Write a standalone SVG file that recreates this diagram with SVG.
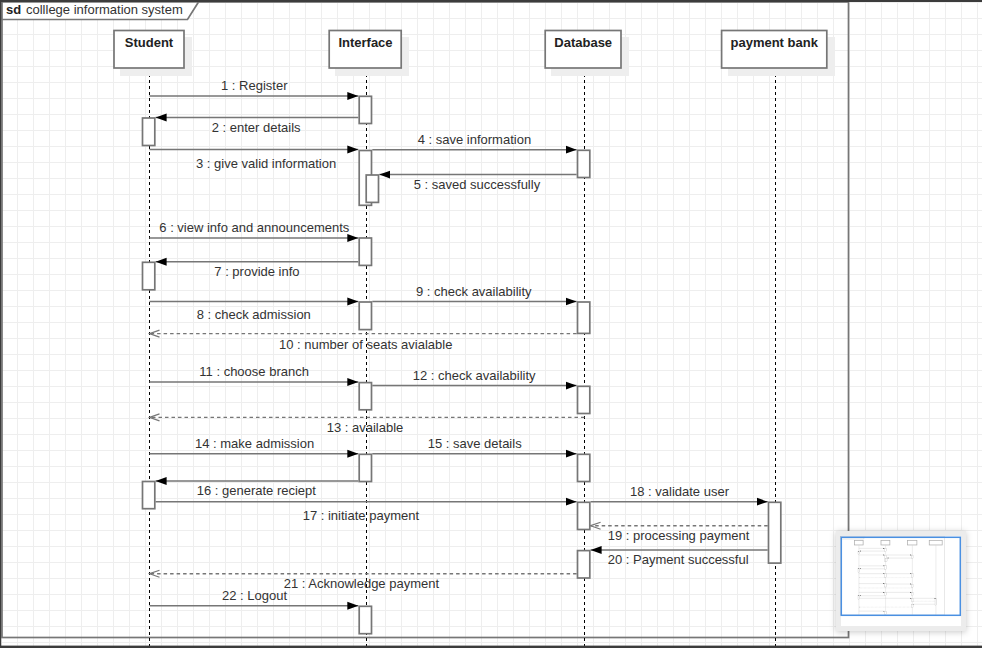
<svg xmlns="http://www.w3.org/2000/svg" xmlns:xlink="http://www.w3.org/1999/xlink" width="982" height="648" viewBox="0 0 982 648">
  <defs>
    <style>
      text { font-family: "Liberation Sans", Arial, Helvetica, sans-serif; font-size: 13px; fill: #333; }
      .name { font-weight: bold; text-anchor: middle; fill: #222; }
      .box { fill: #fff; stroke: #767676; stroke-width: 1.7; }
      .shadow { fill: #eeeeee; }
      .life { stroke: #000; stroke-width: 1; stroke-dasharray: 3 3; fill: none; }
      .act { fill: #fff; stroke: #767676; stroke-width: 1.7; }
      .msg { stroke: #767676; stroke-width: 1.5; fill: none; marker-end: url(#solid); }
      .ret { stroke: #767676; stroke-width: 1.4; fill: none; stroke-dasharray: 3.5 3; marker-end: url(#open); }
      .edge { stroke: #767676; stroke-width: 1.7; }
    </style>
    <pattern id="grid" patternUnits="userSpaceOnUse" x="1" y="2" width="16" height="16">
      <path d="M0.5 0 V16 M0 0.5 H16" stroke="#eeeeee" stroke-width="1" fill="none"/>
    </pattern>
    <marker id="solid" markerUnits="userSpaceOnUse" markerWidth="12" markerHeight="10" refX="11" refY="4.5" orient="auto">
      <path d="M0 0.5 L11 4.5 L0 8.5 Z" fill="#000"/>
    </marker>
    <marker id="open" markerUnits="userSpaceOnUse" markerWidth="12" markerHeight="10" refX="10.5" refY="4.5" orient="auto">
      <path d="M0.5 1 L10.5 4.5 L0.5 8" fill="none" stroke="#767676" stroke-width="1.2"/>
    </marker>
    <filter id="panelShadow" x="-20%" y="-20%" width="140%" height="140%">
      <feDropShadow dx="0" dy="1" stdDeviation="3" flood-color="#000" flood-opacity="0.22"/>
    </filter>
  </defs>

  <!-- canvas background and grid -->
  <rect x="0" y="0" width="982" height="648" fill="#fff"/>
  <rect x="0" y="0" width="982" height="648" fill="url(#grid)"/>

  <!-- sequence frame -->
  <g id="frame">
    <g id="frame-edges">
      <rect class="edge" x="2" y="2" width="846.5" height="635.5" fill="none"/>
      <path class="edge" d="M2 2 H198.5 L187.5 19.5 H2 Z" fill="#fff"/>
    </g>
    <text x="6" y="13.5" style="font-weight:bold;fill:#222">sd</text>
    <text x="26" y="13.5">colllege information system</text>
  </g>

  <!-- lifelines -->
  <g id="student">
    <line class="life" x1="149.5" y1="68" x2="149.5" y2="646"/>
    <rect class="shadow" x="120" y="37" width="72" height="39"/>
    <rect class="box" x="114" y="30.5" width="70" height="37.5"/>
    <text class="name" x="149" y="47">Student</text>
  </g>
  <g id="interface">
    <line class="life" x1="366.5" y1="68" x2="366.5" y2="646"/>
    <rect class="shadow" x="335" y="37" width="74" height="39"/>
    <rect class="box" x="329.2" y="30.5" width="72" height="37.5"/>
    <text class="name" x="365.5" y="47">Interface</text>
  </g>
  <g id="database">
    <line class="life" x1="584.5" y1="68" x2="584.5" y2="646"/>
    <rect class="shadow" x="551" y="37" width="78" height="39"/>
    <rect class="box" x="545.2" y="30.5" width="75.8" height="37.5"/>
    <text class="name" x="583.2" y="47">Database</text>
  </g>
  <g id="payment-bank">
    <line class="life" x1="775.5" y1="68" x2="775.5" y2="646"/>
    <rect class="shadow" x="728" y="37" width="107" height="39"/>
    <rect class="box" x="721.6" y="30.5" width="105.2" height="37.5"/>
    <text class="name" x="774.2" y="47">payment bank</text>
  </g>

  <!-- activation bars -->
  <g id="activations">
    <rect class="act" x="142.5" y="118" width="12.3" height="27.5"/>
    <rect class="act" x="142.5" y="262.3" width="12.3" height="27.5"/>
    <rect class="act" x="142.5" y="481.5" width="12.3" height="27.2"/>

    <rect class="act" x="359.2" y="96.3" width="12.3" height="27.2"/>
    <rect class="act" x="359.2" y="150.5" width="12.3" height="54.8"/>
    <rect class="act" x="366.2" y="175" width="12.3" height="27.4"/>
    <rect class="act" x="359.2" y="238" width="12.3" height="27.4"/>
    <rect class="act" x="359.2" y="302" width="12.3" height="27.6"/>
    <rect class="act" x="359.2" y="382.6" width="12.3" height="27.2"/>
    <rect class="act" x="359.2" y="454.3" width="12.3" height="27.2"/>
    <rect class="act" x="359.2" y="606.3" width="12.3" height="27.4"/>

    <rect class="act" x="577.5" y="150.3" width="12.3" height="27.2"/>
    <rect class="act" x="577.5" y="302" width="12.3" height="31.4"/>
    <rect class="act" x="577.5" y="386.3" width="12.3" height="27.2"/>
    <rect class="act" x="577.5" y="454.3" width="12.3" height="27.2"/>
    <rect class="act" x="577.5" y="502.3" width="12.3" height="27.2"/>
    <rect class="act" x="577.5" y="550.6" width="12.3" height="27.4"/>

    <rect class="act" x="768.5" y="502.3" width="12.3" height="60.8"/>
  </g>

  <!-- messages -->
  <g id="connectors">
    <line class="msg" x1="149.5" y1="96" x2="358.3" y2="96"/>
    <line class="msg" x1="358.3" y1="117.5" x2="155.6" y2="117.5"/>
    <line class="msg" x1="149.5" y1="149.5" x2="358.3" y2="149.5"/>
    <line class="msg" x1="372.3" y1="149.7" x2="576.6" y2="149.7"/>
    <line class="msg" x1="576.6" y1="174.6" x2="379.3" y2="174.6"/>
    <line class="msg" x1="149.5" y1="238" x2="358.3" y2="238"/>
    <line class="msg" x1="358.3" y1="261.8" x2="155.6" y2="261.8"/>
    <line class="msg" x1="149.5" y1="301.5" x2="358.3" y2="301.5"/>
    <line class="msg" x1="372.3" y1="301.5" x2="576.6" y2="301.5"/>
    <line class="ret" x1="576.6" y1="333.6" x2="149.5" y2="333.6"/>
    <line class="msg" x1="149.5" y1="382" x2="358.3" y2="382"/>
    <line class="msg" x1="372.3" y1="385.6" x2="576.6" y2="385.6"/>
    <line class="ret" x1="584.5" y1="417.4" x2="149.5" y2="417.4"/>
    <line class="msg" x1="149.5" y1="453.7" x2="358.3" y2="453.7"/>
    <line class="msg" x1="372.3" y1="453.7" x2="576.6" y2="453.7"/>
    <line class="msg" x1="358.3" y1="481.1" x2="155.6" y2="481.1"/>
    <line class="msg" x1="155.6" y1="501.7" x2="576.6" y2="501.7"/>
    <line class="msg" x1="590.6" y1="501.7" x2="767.7" y2="501.7"/>
    <line class="ret" x1="767.7" y1="525.7" x2="590.6" y2="525.7"/>
    <line class="msg" x1="767.7" y1="550" x2="590.6" y2="550"/>
    <line class="ret" x1="576.6" y1="573.7" x2="149.5" y2="573.7"/>
    <line class="msg" x1="149.5" y1="605.7" x2="358.3" y2="605.7"/>
  </g>

  <!-- message labels -->
  <g id="labels">
    <text x="221" y="90.2">1 : Register</text>
    <text x="211.7" y="132.2">2 : enter details</text>
    <text x="196" y="167.8">3 : give valid information</text>
    <text x="417.7" y="143.8">4 : save information</text>
    <text x="413.7" y="188.8">5 : saved successfully</text>
    <text x="159.3" y="231.8">6 : view info and announcements</text>
    <text x="214.3" y="275.8">7 : provide info</text>
    <text x="196.7" y="318.8">8 : check admission</text>
    <text x="416" y="296.2">9 : check availability</text>
    <text x="279" y="348.5">10 : number of seats avialable</text>
    <text x="199.3" y="375.8">11 : choose branch</text>
    <text x="412.7" y="380.2">12 : check availability</text>
    <text x="326.7" y="431.8">13 : available</text>
    <text x="195" y="448.2">14 : make admission</text>
    <text x="427.7" y="447.8">15 : save details</text>
    <text x="196.7" y="495.2">16 : generate reciept</text>
    <text x="302.7" y="520.2">17 : initiate payment</text>
    <text x="630" y="495.5">18 : validate user</text>
    <text x="607.7" y="540.2">19 : processing payment</text>
    <text x="607.7" y="563.8">20 : Payment successful</text>
    <text x="283.7" y="587.8">21 : Acknowledge payment</text>
    <text x="222" y="600.2">22 : Logout</text>
  </g>

  <!-- window edges -->
  <rect x="0" y="0" width="982" height="2" fill="#3c3c3c"/>
  <rect x="0" y="0" width="1.2" height="648" fill="#3c3c3c"/>
  <rect x="0" y="645.6" width="982" height="2.4" fill="#3c3c3c"/>

  <!-- overview panel -->
  <g id="overview">
    <rect x="836" y="531" width="130" height="100" fill="#ececec" filter="url(#panelShadow)"/>
    <rect x="841" y="536" width="120" height="90" fill="#fff"/>
    <g transform="translate(840.5 536.6) scale(0.123)" opacity="0.8">
      <use xlink:href="#frame-edges" href="#frame-edges"/>
      <g fill="#fff" stroke="#9a9a9a" stroke-width="6">
        <rect x="114" y="30.5" width="70" height="37.5"/>
        <rect x="329.2" y="30.5" width="72" height="37.5"/>
        <rect x="545.2" y="30.5" width="75.8" height="37.5"/>
        <rect x="721.6" y="30.5" width="105.2" height="37.5"/>
      </g>
      <g stroke="#c4c4c4" stroke-width="3">
        <line x1="149.5" y1="68" x2="149.5" y2="640"/>
        <line x1="366.5" y1="68" x2="366.5" y2="640"/>
        <line x1="584.5" y1="68" x2="584.5" y2="640"/>
        <line x1="775.5" y1="68" x2="775.5" y2="640"/>
      </g>
      <use xlink:href="#connectors" href="#connectors"/>
      <use xlink:href="#activations" href="#activations"/>
    </g>
    <rect x="841.3" y="537.3" width="119" height="78" fill="none" stroke="#4a90e2" stroke-width="1.5"/>
  </g>
</svg>
